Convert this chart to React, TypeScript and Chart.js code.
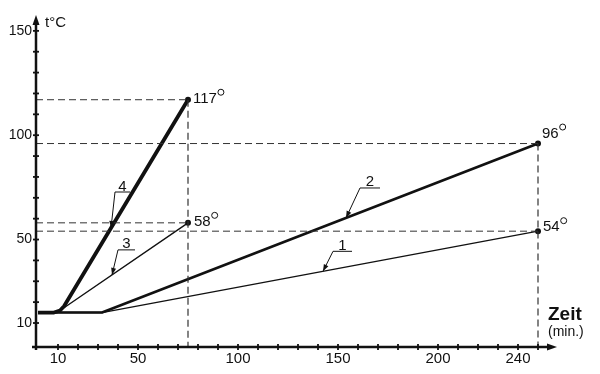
import React, { useEffect, useRef } from "react";
import { Chart, registerables } from "chart.js";

Chart.register(...registerables);

// ---- data ----
const xTickValues = [10, 20, 30, 40, 50, 60, 70, 80, 90, 100, 110, 120, 130, 140, 150, 160, 170, 180, 190, 200, 210, 220, 230, 240, 250];
const xLabelValues = [10, 50, 100, 150, 200, 240];
const yTickValues = [10, 20, 30, 40, 50, 60, 70, 80, 90, 100, 110, 120, 130, 140, 150];
const yLabelValues = [10, 50, 100, 150];

const curve1X = [0, 32, 250];
const curve1Y = [15, 15, 54];
const curve2X = [0, 32, 250];
const curve2Y = [15, 15, 96];
const curve3X = [0, 8, 11, 75];
const curve3Y = [15, 15, 16, 58];
const curve4X = [0, 8, 11, 13, 75];
const curve4Y = [15, 15, 16, 18, 117];

const curveNames = ["1", "2", "3", "4"];
const leaderTargetX = [142.5, 154, 37, 36.5];

const X_MIN = -1;
const X_MAX = 259.5;
const Y_MIN = -1.5;
const Y_MAX = 157.6;

const INK = "#111111";
const FONT = "'Liberation Sans', Arial, Helvetica, sans-serif";

const curvesX = [curve1X, curve2X, curve3X, curve4X];
const curvesY = [curve1Y, curve2Y, curve3Y, curve4Y];

// leader styling (pixel offsets from the arrow tip)
const leaderStyle = [
  { dx: 10, dy: -20, len: 19 },
  { dx: 14, dy: -30, len: 20 },
  { dx: 6, dy: -25, len: 17 },
  { dx: 4, dy: -36, len: 15 },
];
// end label styling (pixel offsets from the end dot)
const endLabelStyle = [
  { dx: 5, dy: -4 },
  { dx: 4, dy: -10 },
  { dx: 6, dy: -1 },
  { dx: 5, dy: -1 },
];

function interp(xs: number[], ys: number[], x: number) {
  for (let i = 0; i < xs.length - 1; i++) {
    if (x >= xs[i] && x <= xs[i + 1]) {
      const t = (x - xs[i]) / (xs[i + 1] - xs[i]);
      return ys[i] + t * (ys[i + 1] - ys[i]);
    }
  }
  return ys[ys.length - 1];
}

const pts = (xs: number[], ys: number[]) => xs.map((x, i) => ({ x, y: ys[i] }));

const decorPlugin = {
  id: "decor",
  afterDatasetsDraw(chart: any) {
    const { ctx, chartArea, scales } = chart;
    const { left, right, top, bottom } = chartArea;
    const xs = scales.x;
    const ys = scales.y;
    ctx.save();
    ctx.strokeStyle = INK;
    ctx.fillStyle = INK;
    ctx.lineCap = "butt";

    // axes
    ctx.lineWidth = 2.5;
    ctx.beginPath();
    ctx.moveTo(left, bottom + 3);
    ctx.lineTo(left, top + 6);
    ctx.stroke();
    ctx.beginPath();
    ctx.moveTo(left, top);
    ctx.lineTo(left - 3.5, top + 10);
    ctx.lineTo(left + 3.5, top + 10);
    ctx.closePath();
    ctx.fill();

    ctx.beginPath();
    ctx.moveTo(left - 4, bottom);
    ctx.lineTo(right - 6, bottom);
    ctx.stroke();
    ctx.beginPath();
    ctx.moveTo(right, bottom);
    ctx.lineTo(right - 10, bottom - 3.5);
    ctx.lineTo(right - 10, bottom + 3.5);
    ctx.closePath();
    ctx.fill();

    // tick marks
    ctx.lineWidth = 1.8;
    yTickValues.forEach((v) => {
      const py = ys.getPixelForValue(v);
      ctx.beginPath();
      ctx.moveTo(left - 3, py);
      ctx.lineTo(left + 3, py);
      ctx.stroke();
    });
    xTickValues.forEach((v) => {
      const px = xs.getPixelForValue(v);
      ctx.beginPath();
      ctx.moveTo(px, bottom - 3);
      ctx.lineTo(px, bottom + 3);
      ctx.stroke();
    });

    // axis titles
    ctx.textAlign = "left";
    ctx.textBaseline = "alphabetic";
    ctx.font = `15px ${FONT}`;
    ctx.fillText("t°C", left + 9, top + 12);
    ctx.font = `bold 19px ${FONT}`;
    ctx.fillText("Zeit", right - 9, bottom - 27);
    ctx.font = `14px ${FONT}`;
    ctx.fillText("(min.)", right - 9, bottom - 11);

    // end labels
    curvesX.forEach((cx, i) => {
      const cy = curvesY[i];
      const lx = cx[cx.length - 1];
      const ly = cy[cy.length - 1];
      const px = xs.getPixelForValue(lx) + endLabelStyle[i].dx;
      const py = ys.getPixelForValue(ly) + endLabelStyle[i].dy;
      ctx.font = `15px ${FONT}`;
      ctx.textBaseline = "middle";
      ctx.textAlign = "left";
      const txt = String(ly);
      ctx.fillText(txt, px, py);
      const w = ctx.measureText(txt).width;
      ctx.lineWidth = 1;
      ctx.beginPath();
      ctx.arc(px + w + 4, py - 6.5, 3, 0, Math.PI * 2);
      ctx.stroke();
    });

    // curve leaders
    curvesX.forEach((cx, i) => {
      const cy = curvesY[i];
      const tx = xs.getPixelForValue(leaderTargetX[i]);
      const ty = ys.getPixelForValue(interp(cx, cy, leaderTargetX[i]));
      const st = leaderStyle[i];
      const sx = tx + st.dx;
      const sy = ty + st.dy;
      ctx.lineWidth = 1;
      ctx.beginPath();
      ctx.moveTo(sx + st.len, sy);
      ctx.lineTo(sx, sy);
      ctx.lineTo(tx, ty);
      ctx.stroke();
      const ang = Math.atan2(ty - sy, tx - sx);
      const c = Math.cos(ang);
      const s = Math.sin(ang);
      ctx.beginPath();
      ctx.moveTo(tx, ty);
      ctx.lineTo(tx - 7 * c - 2.5 * s, ty - 7 * s + 2.5 * c);
      ctx.lineTo(tx - 7 * c + 2.5 * s, ty - 7 * s - 2.5 * c);
      ctx.closePath();
      ctx.fill();
      ctx.font = `15px ${FONT}`;
      ctx.textAlign = "center";
      ctx.textBaseline = "alphabetic";
      ctx.fillText(curveNames[i], sx + st.len / 2, sy - 1.5);
    });

    ctx.restore();
  },
};

export default function App() {
  const ref = useRef<HTMLCanvasElement>(null);

  useEffect(() => {
    const canvas = ref.current;
    if (!canvas) return;

    const endRadius = (c: any) => (c.dataIndex === c.dataset.data.length - 1 ? 3 : 0);

    const dashedSets: any[] = [];
    curvesX.forEach((cx, i) => {
      const cy = curvesY[i];
      const ex = cx[cx.length - 1];
      const ey = cy[cy.length - 1];
      dashedSets.push({
        data: [{ x: X_MIN, y: ey }, { x: ex, y: ey }],
        borderColor: "#333333",
        borderWidth: 1,
        borderDash: [7, 4],
        pointRadius: 0,
        showLine: true,
      });
      if (i === 1 || i === 3) {
        dashedSets.push({
          data: [{ x: ex, y: ey }, { x: ex, y: Y_MIN }],
          borderColor: "#333333",
          borderWidth: 1.2,
          borderDash: [7, 4],
          pointRadius: 0,
          showLine: true,
        });
      }
    });

    const curveSet = (i: number, width: number) => ({
      data: pts(curvesX[i], curvesY[i]),
      borderColor: INK,
      backgroundColor: INK,
      borderWidth: width,
      borderJoinStyle: "round",
      pointRadius: endRadius,
      pointBorderWidth: 0,
      pointBackgroundColor: INK,
      showLine: true,
      tension: 0,
    });

    const chart = new Chart(canvas, {
      type: "scatter",
      data: {
        datasets: [
          ...dashedSets,
          curveSet(0, 1.4),
          curveSet(2, 1.4),
          curveSet(1, 2.6),
          curveSet(3, 3.8),
        ],
      },
      options: {
        responsive: false,
        animation: false,
        devicePixelRatio: 1,
        layout: { padding: { top: 15, right: 43, left: 0, bottom: 0 } },
        plugins: {
          legend: { display: false },
          tooltip: { enabled: false },
        },
        scales: {
          x: {
            type: "linear",
            min: X_MIN,
            max: X_MAX,
            afterFit: (s: any) => {
              s.height = 27;
            },
            afterBuildTicks: (s: any) => {
              s.ticks = xTickValues.map((v) => ({ value: v }));
            },
            grid: { display: false, drawTicks: false },
            border: { display: false },
            ticks: {
              autoSkip: false,
              maxRotation: 0,
              padding: 3,
              color: INK,
              font: { family: FONT, size: 15 },
              callback: (v: any) => (xLabelValues.includes(Number(v)) ? String(v) : ""),
            },
          },
          y: {
            type: "linear",
            min: Y_MIN,
            max: Y_MAX,
            afterFit: (s: any) => {
              s.width = 36;
            },
            afterBuildTicks: (s: any) => {
              s.ticks = yTickValues.map((v) => ({ value: v }));
            },
            grid: { display: false, drawTicks: false },
            border: { display: false },
            ticks: {
              autoSkip: false,
              padding: 4,
              color: INK,
              font: { family: FONT, size: 14 },
              callback: (v: any) => (yLabelValues.includes(Number(v)) ? String(v) : ""),
            },
          },
        },
      } as any,
      plugins: [decorPlugin],
    });

    return () => chart.destroy();
  }, []);

  return (
    <div style={{ position: "absolute", left: 0, top: 0, width: 600, height: 374, background: "#fff" }}>
      <canvas ref={ref} width={600} height={374} style={{ display: "block" }} />
    </div>
  );
}
